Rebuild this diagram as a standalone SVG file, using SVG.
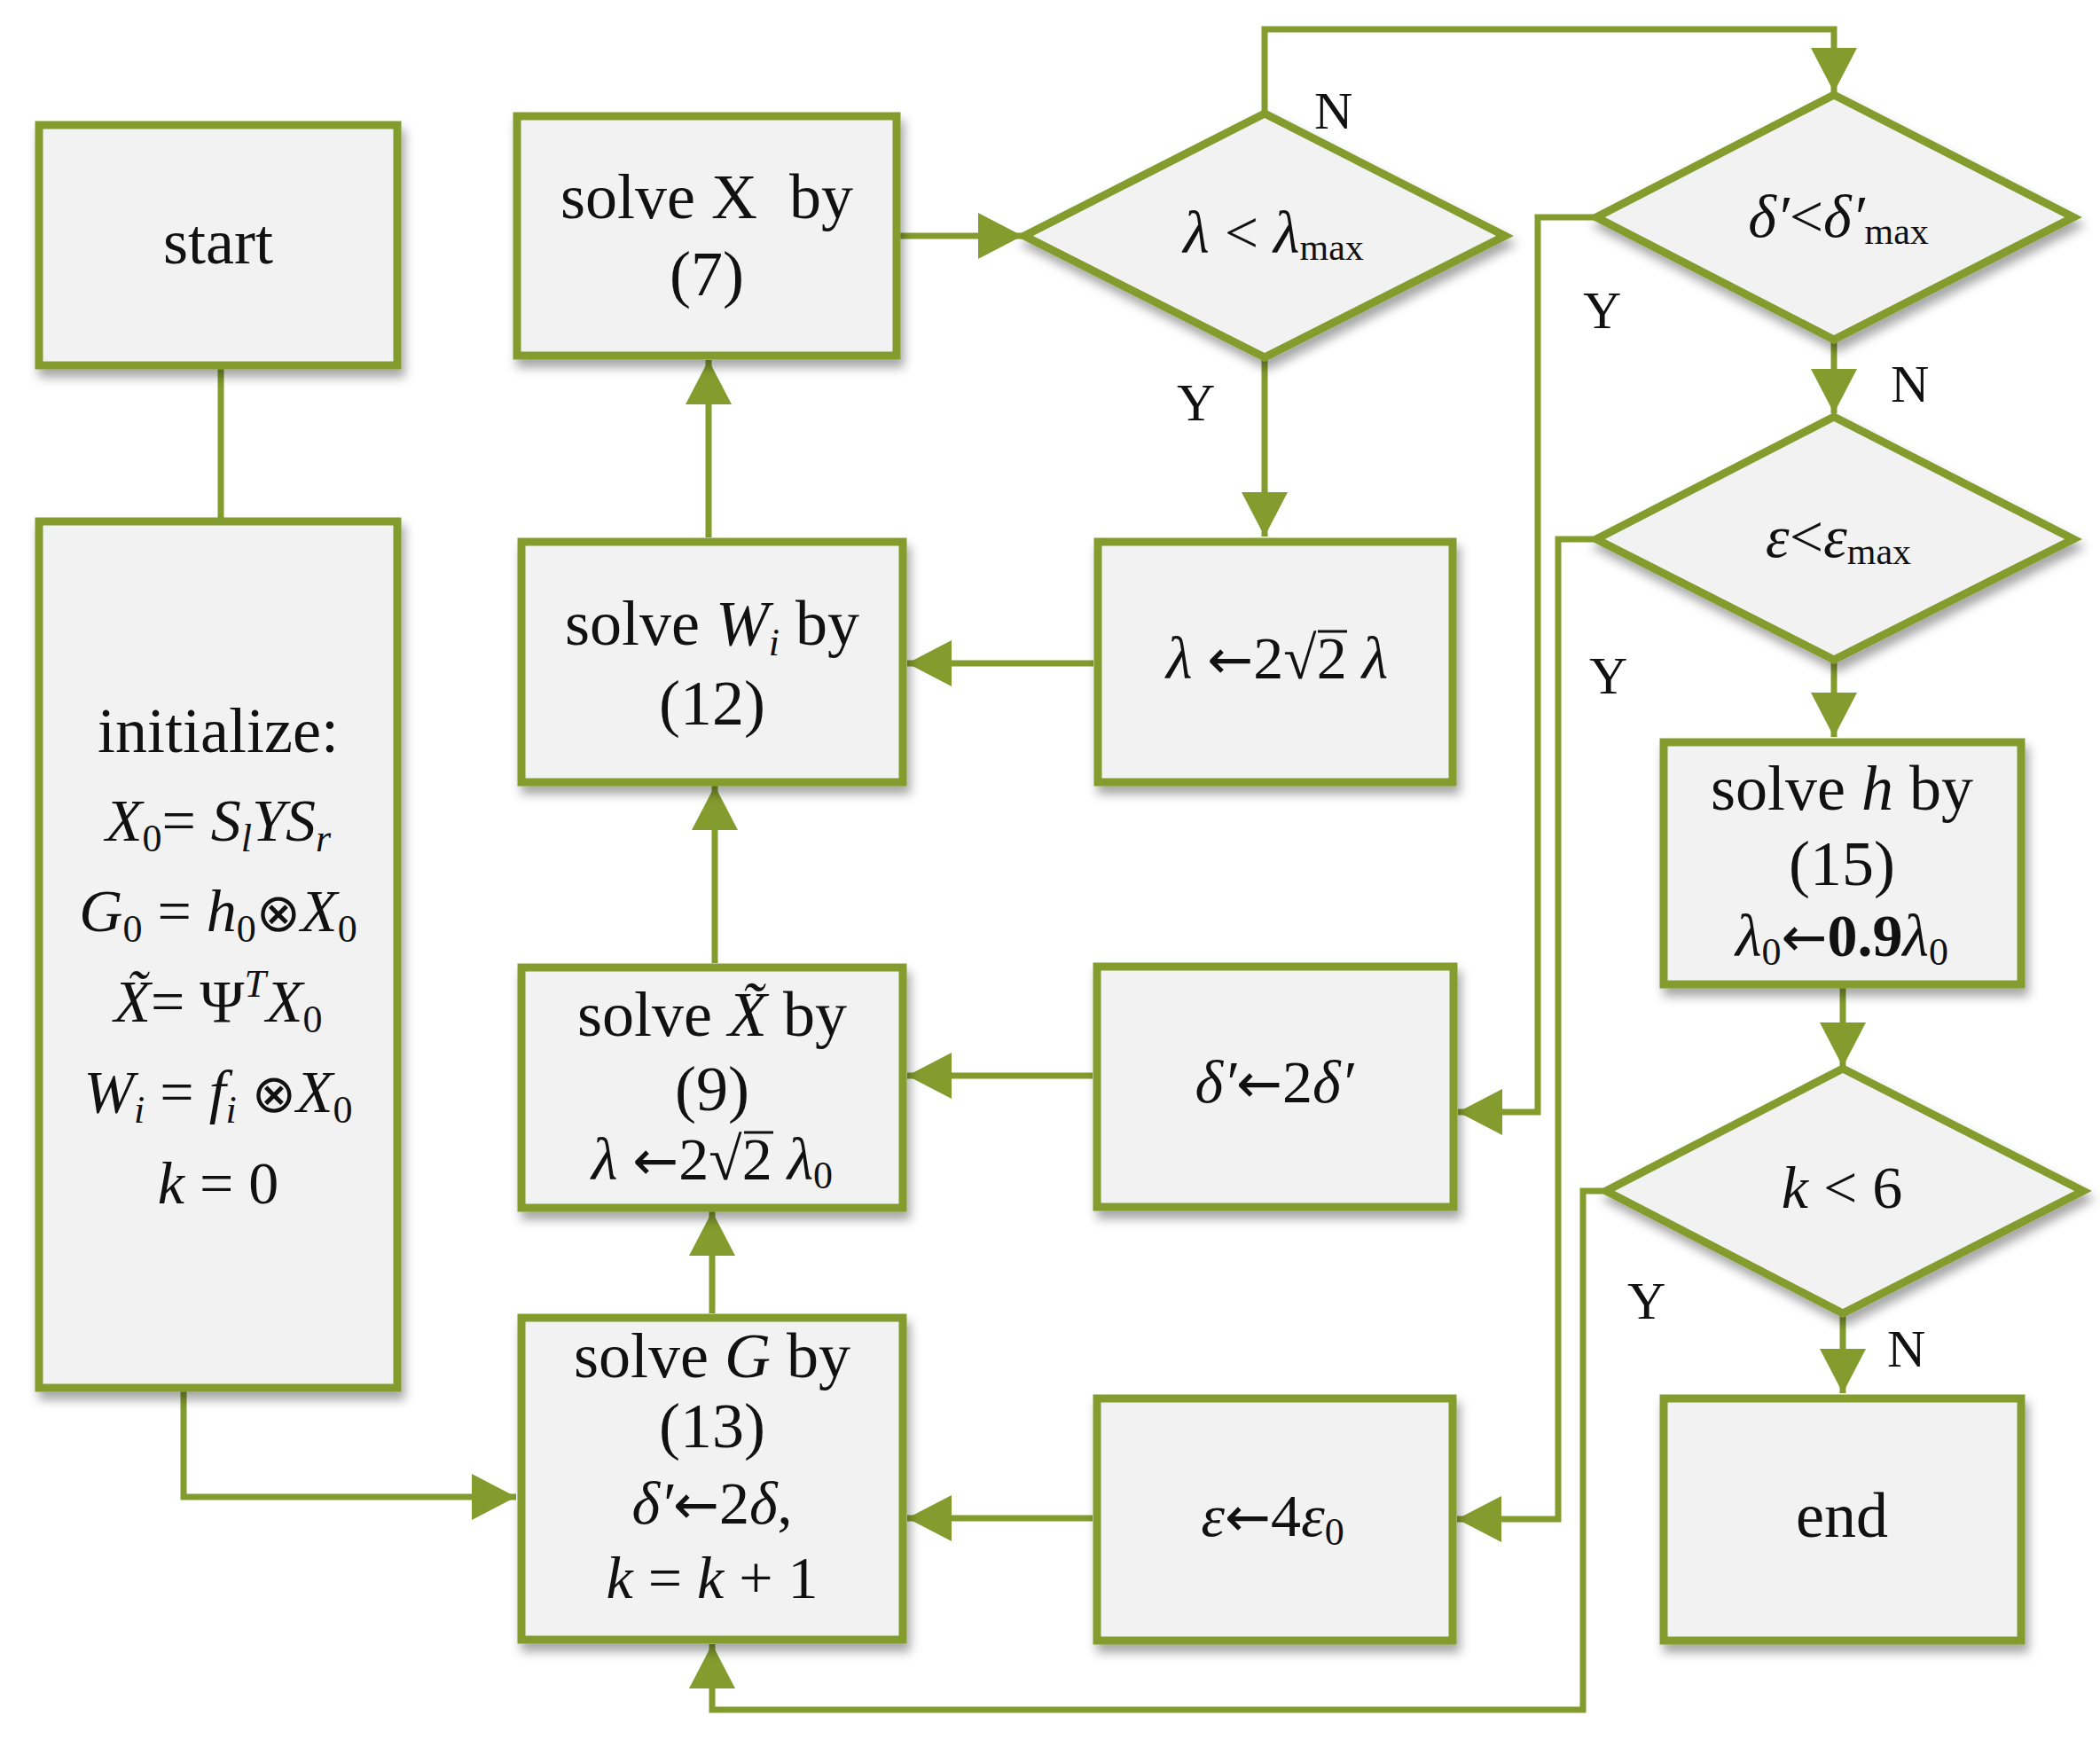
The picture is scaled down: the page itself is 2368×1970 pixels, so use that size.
<svg xmlns="http://www.w3.org/2000/svg" width="2368" height="1970" viewBox="0 0 2368 1970">
<defs>
<style>
.bx{fill:#f2f2f2;stroke:#849c2e;stroke-width:9;filter:url(#sh)}
.cn{fill:none;stroke:#849c2e;stroke-width:7}
.bar{stroke:#111;stroke-width:3}
text{font-family:"Liberation Serif","DejaVu Serif","Times New Roman",serif;fill:#111;text-anchor:middle}
.t{font-size:72px}
.m{font-size:68px}
.lb{font-size:60px;text-anchor:start}
.i{font-style:italic}
.sb{font-size:44px}
.sm{font-size:42px}
.ar{font-family:"DejaVu Sans",sans-serif;font-size:62px}
.ot{font-family:"DejaVu Sans",sans-serif;font-size:60px;font-weight:normal}
</style>
<filter id="sh" x="-10%" y="-10%" width="130%" height="130%">
<feDropShadow dx="4" dy="9" stdDeviation="6" flood-color="#000" flood-opacity="0.35"/>
</filter>
<marker id="ar" viewBox="0 0 50 52" markerWidth="50" markerHeight="52" refX="50" refY="26" orient="auto" markerUnits="userSpaceOnUse">
<path d="M0,0 L50,26 L0,52 Z" fill="#849c2e"/>
</marker>
</defs>
<rect width="2368" height="1970" fill="#fff"/>

<g id="connectors">
<path class="cn" d="M249,416 V584"/>
<path class="cn" d="M207,1569 V1688 H582" marker-end="url(#ar)"/>
<path class="cn" d="M1015,266 H1153" marker-end="url(#ar)"/>
<path class="cn" d="M1426,128 V33 H2068 V104" marker-end="url(#ar)"/>
<path class="cn" d="M1426,403 V605" marker-end="url(#ar)"/>
<path class="cn" d="M1233,748 H1023" marker-end="url(#ar)"/>
<path class="cn" d="M799,606 V406" marker-end="url(#ar)"/>
<path class="cn" d="M806,1086 V886" marker-end="url(#ar)"/>
<path class="cn" d="M1232,1213 H1023" marker-end="url(#ar)"/>
<path class="cn" d="M803,1481 V1366" marker-end="url(#ar)"/>
<path class="cn" d="M1232,1712 H1023" marker-end="url(#ar)"/>
<path class="cn" d="M1800,245 H1734 V1254 H1644" marker-end="url(#ar)"/>
<path class="cn" d="M2068,383 V466" marker-end="url(#ar)"/>
<path class="cn" d="M1800,608 H1757 V1713 H1643" marker-end="url(#ar)"/>
<path class="cn" d="M2068,744 V831" marker-end="url(#ar)"/>
<path class="cn" d="M2078,1114 V1203" marker-end="url(#ar)"/>
<path class="cn" d="M2078,1481 V1571" marker-end="url(#ar)"/>
<path class="cn" d="M1811,1343 H1785 V1928 H803 V1854" marker-end="url(#ar)"/>
</g>

<g id="start">
<rect class="bx" x="44" y="141" width="404" height="271"/>
<text class="t" x="246" y="297">start</text>
</g>

<g id="initialize">
<rect class="bx" x="44" y="588" width="404" height="977"/>
<text class="t" x="246" y="848">initialize:</text>
<text class="m" x="246" y="948"><tspan class="i">X</tspan><tspan class="sb" dy="12">0</tspan><tspan dy="-12">= </tspan><tspan class="i">S</tspan><tspan class="i sb" dy="12">l</tspan><tspan class="i" dy="-12">YS</tspan><tspan class="i sb" dy="12">r</tspan></text>
<text class="m" x="246" y="1050"><tspan class="i">G</tspan><tspan class="sb" dy="12">0</tspan><tspan dy="-12"> = </tspan><tspan class="i">h</tspan><tspan class="sb" dy="12">0</tspan><tspan class="ot" dy="-12">⊗</tspan><tspan class="i">X</tspan><tspan class="sb" dy="12">0</tspan></text>
<text class="m" x="246" y="1152"><tspan class="i">X̃</tspan><tspan>= Ψ</tspan><tspan class="i sb" dy="-28">T</tspan><tspan class="i" dy="28">X</tspan><tspan class="sb" dy="12">0</tspan></text>
<text class="m" x="246" y="1254"><tspan class="i">W</tspan><tspan class="i sb" dy="12">i</tspan><tspan dy="-12"> = </tspan><tspan class="i">f</tspan><tspan class="i sb" dy="12">i</tspan><tspan dy="-12"> </tspan><tspan class="ot">⊗</tspan><tspan class="i">X</tspan><tspan class="sb" dy="12">0</tspan></text>
<text class="m" x="246" y="1357"><tspan class="i">k</tspan> = 0</text>
</g>

<g id="solveX">
<rect class="bx" x="583" y="131" width="428" height="270"/>
<text class="t" x="797" y="246">solve X&#160; by</text>
<text class="t" x="797" y="333">(7)</text>
</g>

<g id="solveW">
<rect class="bx" x="588" y="611" width="430" height="271"/>
<text class="t" x="803" y="727">solve <tspan class="i">W</tspan><tspan class="i sb" dy="12">i</tspan><tspan dy="-12"> by</tspan></text>
<text class="t" x="803" y="817">(12)</text>
</g>

<g id="solveXt">
<rect class="bx" x="588" y="1091" width="430" height="271"/>
<text class="t" x="803" y="1168">solve <tspan class="i">X̃</tspan> by</text>
<text class="t" x="803" y="1252">(9)</text>
<text class="m" x="803" y="1330"><tspan class="i">λ</tspan> <tspan class="ar">←</tspan>2√2 <tspan class="i">λ</tspan><tspan class="sb" dy="10">0</tspan></text>
<line class="bar" x1="839" y1="1277" x2="872" y2="1277"/>
</g>

<g id="solveG">
<rect class="bx" x="588" y="1486" width="430" height="363"/>
<text class="t" x="803" y="1553">solve <tspan class="i">G</tspan> by</text>
<text class="t" x="803" y="1632">(13)</text>
<text class="m" x="803" y="1718"><tspan class="i">δ′</tspan><tspan class="ar">←</tspan>2<tspan class="i">δ</tspan>,</text>
<text class="m" x="803" y="1802"><tspan class="i">k</tspan> = <tspan class="i">k</tspan> + 1</text>
</g>

<g id="lambdaUpdate">
<rect class="bx" x="1238" y="611" width="400" height="271"/>
<text class="m" x="1440" y="765"><tspan class="i">λ</tspan> <tspan class="ar">←</tspan>2√2 <tspan class="i">λ</tspan></text>
<line class="bar" x1="1486" y1="712" x2="1519" y2="712"/>
</g>

<g id="deltaUpdate">
<rect class="bx" x="1237" y="1090" width="402" height="271"/>
<text class="m" x="1437" y="1243"><tspan class="i">δ′</tspan><tspan class="ar">←</tspan>2<tspan class="i">δ′</tspan></text>
</g>

<g id="epsUpdate">
<rect class="bx" x="1237" y="1577" width="401" height="273"/>
<text class="m" x="1435" y="1732"><tspan class="i">ε</tspan><tspan class="ar">←</tspan>4<tspan class="i">ε</tspan><tspan class="sb" dy="10">0</tspan></text>
</g>

<g id="solveH">
<rect class="bx" x="1876" y="837" width="403" height="273"/>
<text class="t" x="2077" y="913">solve <tspan class="i">h</tspan> by</text>
<text class="t" x="2077" y="998">(15)</text>
<text class="m" x="2077" y="1078"><tspan class="i">λ</tspan><tspan class="sb" dy="10">0</tspan><tspan class="ar" dy="-10">←</tspan><tspan font-weight="bold">0.9</tspan><tspan class="i">λ</tspan><tspan class="sb" dy="10">0</tspan></text>
</g>

<g id="end">
<rect class="bx" x="1876" y="1577" width="403" height="273"/>
<text class="t" x="2077" y="1733">end</text>
</g>

<g id="d1">
<polygon class="bx" points="1155,266 1426,128 1697,266 1426,403"/>
<text class="m" x="1436" y="285"><tspan class="i">λ</tspan> &lt; <tspan class="i">λ</tspan><tspan class="sm" dy="8">max</tspan></text>
</g>

<g id="d2">
<polygon class="bx" points="1800,245 2068,107 2338,245 2068,383"/>
<text class="m" x="2073" y="267"><tspan class="i">δ′</tspan>&lt;<tspan class="i">δ′</tspan><tspan class="sm" dy="8">max</tspan></text>
</g>

<g id="d3">
<polygon class="bx" points="1800,608 2068,470 2338,608 2068,744"/>
<text class="m" x="2073" y="628"><tspan class="i">ε</tspan>&lt;<tspan class="i">ε</tspan><tspan class="sm" dy="8">max</tspan></text>
</g>

<g id="d4">
<polygon class="bx" points="1811,1343 2078,1205 2349,1343 2078,1481"/>
<text class="m" x="2077" y="1362"><tspan class="i">k</tspan> &lt; 6</text>
</g>

<g id="labels">
<text class="lb" x="1482" y="145">N</text>
<text class="lb" x="1327" y="474">Y</text>
<text class="lb" x="1785" y="370">Y</text>
<text class="lb" x="2132" y="453">N</text>
<text class="lb" x="1792" y="782">Y</text>
<text class="lb" x="1835" y="1487">Y</text>
<text class="lb" x="2128" y="1541">N</text>
</g>
</svg>
